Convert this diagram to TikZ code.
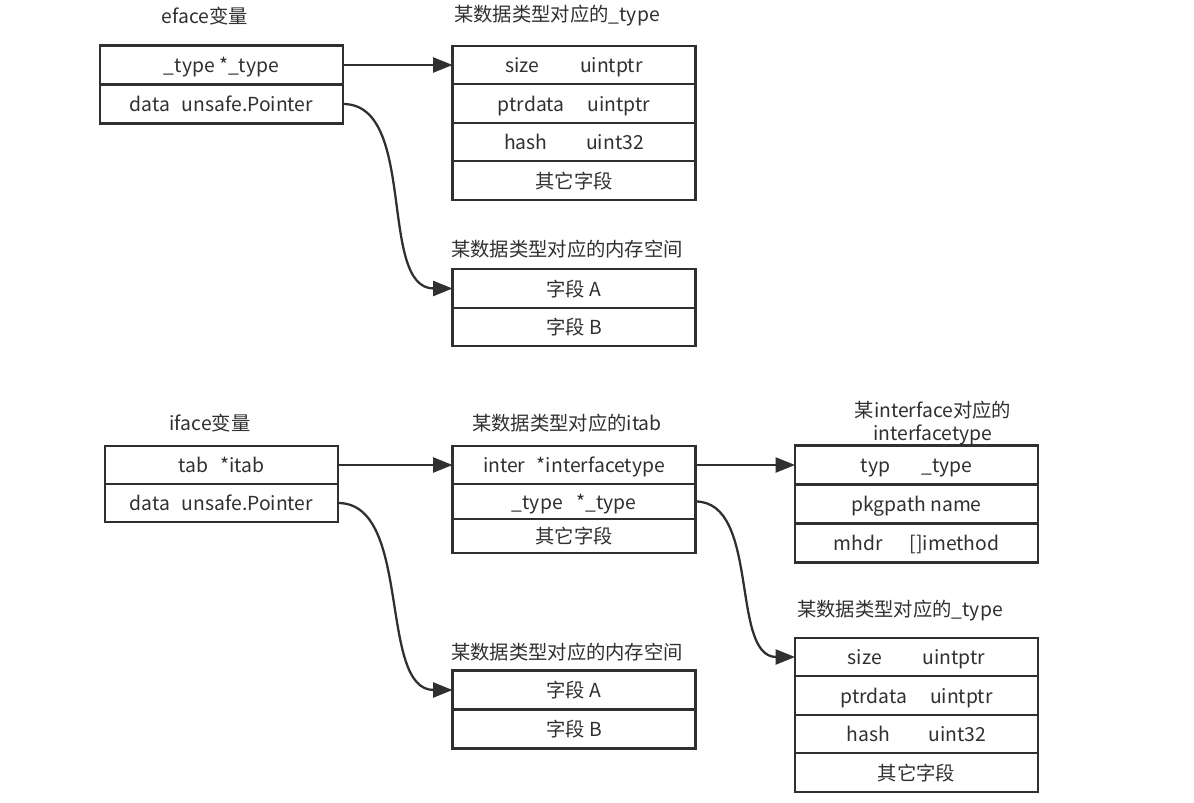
\documentclass[tikz,border=0pt]{standalone}
\usepackage{fontspec}
\setmainfont{Noto Sans CJK SC}
\usepackage{tikz}
\usetikzlibrary{arrows.meta}
\usetikzlibrary{positioning}
\definecolor{ink}{HTML}{303030}
\begin{document}
\begin{tikzpicture}[x=0.02cm,y=-0.02cm,font=\fontsize{11}{13.5}\selectfont,
                field/.style={rectangle, draw=ink, line width=1.3pt, text=ink, fill=white,
                              minimum width=4.86cm, minimum height=0.77cm, inner sep=0pt, outer sep=0pt,
                              text height=1em, text depth=0.12em},
                title/.style={text=ink, align=center},
                arrow/.style={draw=ink, line width=1.3pt, -{Triangle[length=11pt,width=8.5pt]}}
            ]
            \useasboundingbox[fill=white] (0,0) rectangle (1194,803);
            % eface
            \node[title] (etitle) at (205,16) {eface变量};
            \node[field, minimum width=4.86cm, minimum height=0.78cm] (e1) at (221.5,65) {\_type *\_type};
            \node[field, minimum width=4.86cm, minimum height=0.78cm, below=0pt of e1] (e2) {data\hspace{0.6em}unsafe.Pointer};
            \node[title] (ttitle) at (557,16) {某数据类型对应的\_type};
            \node[field] (t1) at (574,65) {size\hspace{2.1em}uintptr};
            \node[field, below=0pt of t1] (t2) {ptrdata\hspace{1.2em}uintptr};
            \node[field, below=0pt of t2] (t3) {hash\hspace{2em}uint32};
            \node[field, below=0pt of t3] (t4) {其它字段};
            \node[title] (mtitle) at (567,249) {某数据类型对应的内存空间};
            \node[field] (m1) at (574,288.5) {字段 A};
            \node[field, below=0pt of m1] (m2) {字段 B};
            \path[arrow] (e1.east) -- (t1.west);
            \path[arrow] (e2.east) .. controls +(75,0) and +(-75,0) .. (m1.west);
            % iface
            \node[title] (ititle) at (210,423) {iface变量};
            \node[field, minimum width=4.66cm, minimum height=0.76cm] (i1) at (221.5,465) {tab\hspace{0.6em}*itab};
            \node[field, minimum width=4.66cm, minimum height=0.76cm, below=0pt of i1] (i2) {data\hspace{0.6em}unsafe.Pointer};
            \node[title] (atitle) at (567,423) {某数据类型对应的itab};
            \node[field, minimum height=0.76cm] (a1) at (574,465) {inter\hspace{0.6em}*interfacetype};
            \node[field, minimum height=0.7cm, below=0pt of a1] (a2) {\_type\hspace{0.7em}*\_type};
            \node[field, minimum height=0.68cm, below=0pt of a2] (a3) {其它字段};
            \node[title] (ftitle) at (933,423) {某interface对应的\\interfacetype};
            \node[field, minimum height=0.78cm] (f1) at (916.5,465) {typ\hspace{1.6em}\_type};
            \node[field, minimum height=0.78cm, below=0pt of f1] (f2) {pkgpath name};
            \node[field, minimum height=0.78cm, below=0pt of f2] (f3) {mhdr\hspace{1.4em}[]imethod};
            \node[title] (ntitle) at (567,652) {某数据类型对应的内存空间};
            \node[field, minimum height=0.78cm] (n1) at (574,690) {字段 A};
            \node[field, minimum height=0.78cm, below=0pt of n1] (n2) {字段 B};
            \node[title] (ytitle) at (900,611) {某数据类型对应的\_type};
            \node[field] (y1) at (916.5,657) {size\hspace{2.1em}uintptr};
            \node[field, below=0pt of y1] (y2) {ptrdata\hspace{1.2em}uintptr};
            \node[field, below=0pt of y2] (y3) {hash\hspace{2em}uint32};
            \node[field, below=0pt of y3] (y4) {其它字段};
            \path[arrow] (i1.east) -- (a1.west);
            \path[arrow] (a1.east) -- (f1.west);
            \path[arrow] (i2.east) .. controls +(75,0) and +(-75,0) .. (n1.west);
            \path[arrow] (a2.east) .. controls +(65,0) and +(-65,0) .. (y1.west);
        \end{tikzpicture}
\end{document}
